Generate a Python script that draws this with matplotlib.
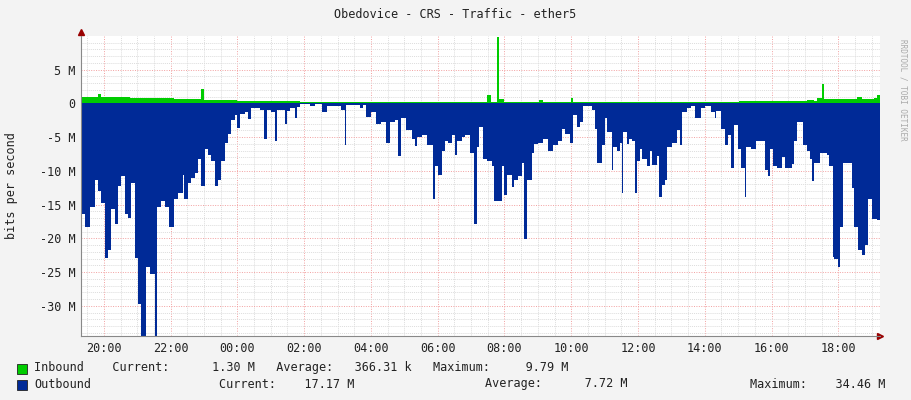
import matplotlib
matplotlib.use("Agg")
import matplotlib.pyplot as plt
import numpy as np

# minutes after 19:00
out_t = [19,26,35,44,49,55,62,67,73,80,85,91,98,103,108,116,121,126,135,143,152,155,162,170,177,187,193,202,205,211,216,223,229,234,241,247,252,259,265,270,277,283,288,295,299,304,313,319,324,340,347,353,360,367,371,385,390,394,403,407,412,430,439,453,462,487,493,496,520,525,532,540,550,559,568,575,583,588,595,604,613,619,622,631,640,651,656,660,667,673,678,685,691,694,703,709,719,726,730,735,741,748,757,762,775,780,784,793,798,804,811,816,820,829,834,840,849,858,867,876,883,888,897,903,910,915,922,937,942,947,955,960,965,973,976,982,987,992,994,1000,1003,1010,1014,1018,1023,1028,1036,1041,1046,1054,1057,1063,1068,1073,1081,1090,1095,1100,1108,1116,1122,1134,1140,1152,1158,1161,1170,1176,1181,1188,1192,1199,1206,1212,1215,1224,1233,1248,1253,1258,1262,1269,1278,1284,1296,1300,1305,1316,1323,1329,1332,1336,1347,1359,1363,1370,1373,1379,1384,1388,1404,1408,1415,1422,1428,1433,1440,1449]
out_v = [16.4,18.3,15.3,11.4,13,14.8,22.9,21.7,15.6,17.9,12.3,10.8,16.4,16.9,11.8,22.9,29.7,34.46,24.2,25.2,34.4,15.3,14.4,15.3,18.3,14.1,13.3,10.6,14.1,11.8,11,10.3,8.3,12.3,6.8,7.6,8.5,12.3,11.4,8.5,5.8,4.5,2.4,1.7,3.7,1.5,1.2,2.3,0.7,0.9,5.3,0.9,1.3,5.6,0.9,3,1.1,0.7,2.2,0.5,0.1,0.4,0.1,1.2,0.3,0.9,6.1,0.2,0.7,0.2,2,1.2,3,2.7,5.8,2.7,2.5,7.8,2.2,4,5.3,6.3,5,4.7,6.1,14.1,9.3,10.6,7,5.5,5.8,4.7,7.6,5.5,5,4.7,7.3,17.9,6.5,3.5,8.3,8.5,9.3,14.5,9.3,13.6,10.6,12.4,11.3,10.8,8.8,20.1,11.3,7.3,6,5.8,5.2,7,6.2,5.5,3.8,4.5,5.8,1.7,3.5,2.7,0.3,0.9,3.8,8.8,6.2,2.2,4.2,9.8,6.5,7,5.8,13.3,4.2,6,5.2,5.5,13.3,8.5,6.8,8.3,9.3,7,9.1,7.8,13.8,12.1,11.3,6.5,5.8,4,6.2,1.2,0.7,0.4,2.1,0.7,0.4,1.2,2.1,1.1,3.8,6.1,4.7,9.5,3.2,6.8,9.5,13.8,6.5,6.8,5.5,9.8,10.8,6.8,9.3,9.5,8,9.5,9,5.5,2.7,6.1,7,8.3,11.5,8.8,7.3,7.6,9.3,22.7,23,24.2,18.3,8.8,12.5,18.3,21.7,22.4,20.9,14.1,17.1,17.2]
in_t = [19,49,55,107,187,234,240,299,412,748,755,766,771,780,843,849,899,903,1059,1202,1324,1336,1342,1350,1355,1414,1422,1445,1450]
in_v = [0.9,1.4,1.0,0.8,0.6,2.2,0.5,0.3,0.15,1.2,0.2,9.79,0.6,0.25,0.5,0.2,0.8,0.2,0.15,0.3,0.5,0.3,0.8,2.9,0.6,0.9,0.6,0.8,1.3]
t_end = 1455
tick_labels = ["20:00","22:00","00:00","02:00","04:00","06:00","08:00","10:00","12:00","14:00","16:00","18:00"]
y_ticks = [5,0,-5,-10,-15,-20,-25,-30]

bg = "#F3F3F3"
fig = plt.figure(figsize=(9.11,4.0), dpi=100, facecolor=bg)
ax = fig.add_axes([81/911, 64/400, 799/911, 300/400])
ax.set_facecolor("white")

ot = np.array(out_t + [t_end]); ov = -np.array(out_v + [out_v[-1]])
it = np.array(in_t + [t_end]); iv = np.array(in_v + [in_v[-1]])
ax.fill_between(ot, ov, 0, step="post", color="#002A97", lw=0)
ax.fill_between(it, iv, 0, step="post", color="#00CC00", lw=0)

ax.set_xlim(19, t_end)
ax.set_ylim(-34.46, 10)
major_x = np.arange(60, t_end, 120)
minor_x = np.arange(30, t_end, 30)
ax.set_xticks(major_x)
ax.set_xticklabels(tick_labels, family="DejaVu Sans Mono", fontsize=8.5, color="#222222")
ax.set_xticks(minor_x, minor=True)
ax.set_yticks(y_ticks)
ax.set_yticklabels([f"{v} M" if v != 0 else "0" for v in y_ticks], family="DejaVu Sans Mono", fontsize=8.5, color="#222222")
ax.set_yticks(np.arange(-34, 10, 1), minor=True)
ax.tick_params(which="both", length=0, pad=4)
ax.grid(which="minor", color="#DDDDDD", ls=(0,(1,1)), lw=0.7)
ax.grid(which="major", color="#F2A0A0", ls=(0,(1,1.5)), lw=0.7)
ax.set_axisbelow(False)
for c in ax.collections:
    c.set_zorder(1)
ax.set_axisbelow(True)
for s in ["top","right"]:
    ax.spines[s].set_visible(False)
for s in ["left","bottom"]:
    ax.spines[s].set_color("#888888")
ax.plot([1.0], [0], marker=">", color="#990000", ms=4, transform=ax.transAxes, clip_on=False)
ax.plot([0], [1.015], marker="^", color="#990000", ms=4, transform=ax.transAxes, clip_on=False)

mono = dict(family="DejaVu Sans Mono", fontsize=8.5, color="#222222")
fig.text(455/911, 1-14/400, "Obedovice - CRS - Traffic - ether5", ha="center", va="center", **mono)
fig.text(12/911, 1-186/400, "bits per second", rotation=90, ha="center", va="center", **mono)
fig.text(903/911, 1-90/400, "RRDTOOL / TOBI OETIKER", rotation=270, ha="center", va="center",
         family="DejaVu Sans Mono", fontsize=5.5, color="#AAAAAA")
fig.patches.append(plt.Rectangle((17/911, 1-374/400), 10/911, 10/400, transform=fig.transFigure, fc="#00CC00", ec="#222222", lw=0.6))
fig.patches.append(plt.Rectangle((17/911, 1-390/400), 10/911, 10/400, transform=fig.transFigure, fc="#002A97", ec="#222222", lw=0.6))
fig.text(34/911, 1-368/400, "Inbound    Current:      1.30 M   Average:   366.31 k   Maximum:     9.79 M", va="center", **mono)
fig.text(34/911, 1-384/400, "Outbound", va="center", **mono)
fig.text(219/911, 1-384/400, "Current:    17.17 M", va="center", **mono)
fig.text(485/911, 1-384/400, "Average:      7.72 M", va="center", **mono)
fig.text(750/911, 1-384/400, "Maximum:    34.46 M", va="center", **mono)
fig.savefig("out.png", dpi=100, facecolor=bg)
